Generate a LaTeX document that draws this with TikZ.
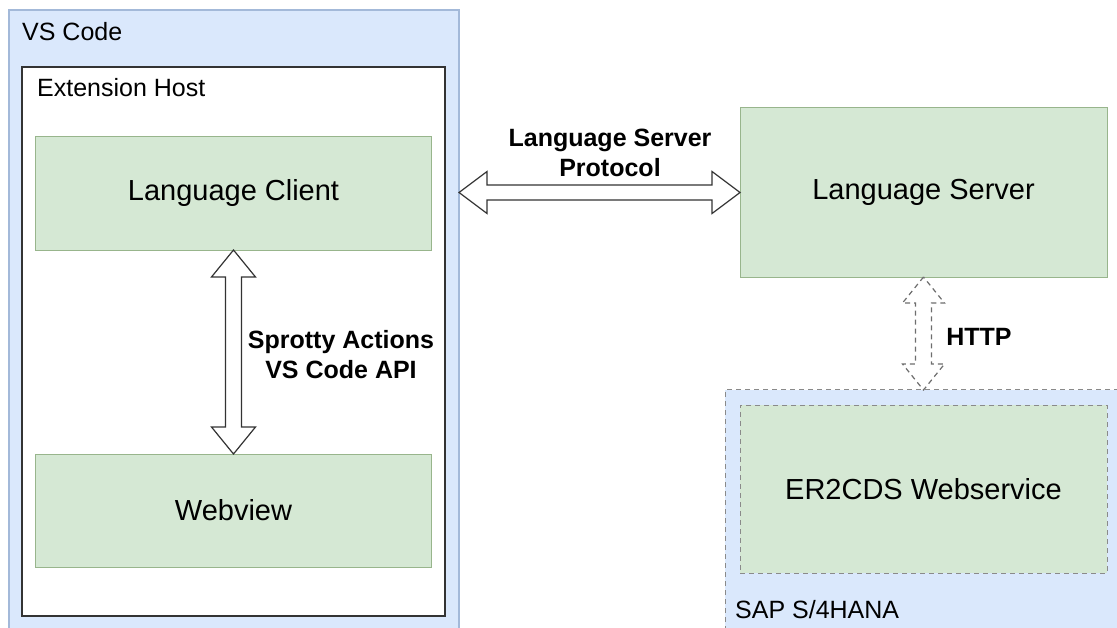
\documentclass[tikz,border=0pt]{standalone}
\usepackage{fontspec}
\setmainfont{Liberation Sans}
\usetikzlibrary{calc}
\definecolor{bluefill}{HTML}{DAE8FC}
\definecolor{blueline}{HTML}{A3B9D9}
\definecolor{greenfill}{HTML}{D5E8D4}
\definecolor{greenline}{HTML}{98B58C}
\definecolor{hostline}{HTML}{333333}
\definecolor{dashline}{HTML}{8A8A8A}
\definecolor{arrowline}{HTML}{333333}
\tikzset{
  container/.style={rectangle, inner sep=0pt, outer sep=0pt},
  vsbox/.style={container, fill=bluefill, draw=blueline, line width=1.2bp},
  hostbox/.style={container, fill=white, draw=hostline, line width=1.3bp},
  greenbox/.style={container, fill=greenfill, draw=greenline, line width=1bp,
    font=\fontsize{29bp}{33bp}\selectfont},
  dashbox/.style={container, draw=dashline, line width=1bp, dash pattern=on 5bp off 4bp},
  smalllabel/.style={inner sep=0pt, anchor=base west, font=\fontsize{25bp}{29bp}\selectfont},
  boldlabel/.style={inner sep=0pt, align=center, font=\bfseries\fontsize{25bp}{30bp}\selectfont},
  flexarrow/.style={draw=arrowline, fill=white, line width=1.2bp, line join=miter},
  dashedflex/.style={draw=dashline!80!black, fill=white, line width=1.2bp, line join=miter,
    dash pattern=on 5bp off 4bp},
}
\begin{document}
\begin{tikzpicture}[x=1bp, y=-1bp]
\path[use as bounding box, fill=white] (0,0) rectangle (1117,628);
\clip (0,0) rectangle (1117,628);

% VS Code container
\node[vsbox, minimum width=450bp, minimum height=630bp] (vs) at (234,325) {};
\node[smalllabel] (vslabel) at (22,41) {VS Code};

% Extension Host
\node[hostbox, minimum width=423bp, minimum height=549bp] (host) at (233.5,341.5) {};
\node[smalllabel] (hostlabel) at (37,97) {Extension Host};

% Language Client / Webview
\node[greenbox, minimum width=395bp, minimum height=113bp] (lc) at (233.5,193.5) {Language Client};
\node[greenbox, minimum width=395bp, minimum height=113bp] (wv) at (233.5,510.5) {Webview};

% Language Server
\node[greenbox, minimum width=367bp, minimum height=169bp] (ls) at (923.5,192.5) {Language Server};

% SAP S/4HANA
\node[dashbox, fill=bluefill, minimum width=405bp, minimum height=250bp] (sap) at (927.5,515) {};
\node[smalllabel] (saplabel) at (735,618) {SAP S/4HANA};
\node[dashbox, fill=greenfill, minimum width=367bp, minimum height=168bp,
  font=\fontsize{29bp}{33bp}\selectfont] (er) at (923.5,489) {ER2CDS Webservice};

% Vertical flex arrow: Language Client <-> Webview
\draw[flexarrow] (lc.south)
  -- ($(lc.south)+(-22,27)$) -- ($(lc.south)+(-8,27)$)
  -- ($(wv.north)+(-8,-27)$) -- ($(wv.north)+(-22,-27)$)
  -- (wv.north)
  -- ($(wv.north)+(22,-27)$) -- ($(wv.north)+(8,-27)$)
  -- ($(lc.south)+(8,27)$) -- ($(lc.south)+(22,27)$)
  -- cycle;
\node[boldlabel] (sprotty) at (341,355) {Sprotty Actions\\VS Code API};

% Horizontal flex arrow: VS Code <-> Language Server
\coordinate (lspL) at (vs.east |- ls.west);
\draw[flexarrow] (lspL)
  -- ($(lspL)+(28,-21)$) -- ($(lspL)+(28,-7.5)$)
  -- ($(ls.west)+(-28,-7.5)$) -- ($(ls.west)+(-28,-21)$)
  -- (ls.west)
  -- ($(ls.west)+(-28,21)$) -- ($(ls.west)+(-28,7.5)$)
  -- ($(lspL)+(28,7.5)$) -- ($(lspL)+(28,21)$)
  -- cycle;
\node[boldlabel] (lsp) at (610,153) {Language Server\\Protocol};

% Dashed flex arrow: Language Server <-> SAP
\coordinate (httpB) at (ls.south |- sap.north);
\draw[dashedflex] (ls.south)
  -- ($(ls.south)+(-21,26)$) -- ($(ls.south)+(-8,26)$)
  -- ($(httpB)+(-8,-26)$) -- ($(httpB)+(-21,-26)$)
  -- (httpB)
  -- ($(httpB)+(21,-26)$) -- ($(httpB)+(8,-26)$)
  -- ($(ls.south)+(8,26)$) -- ($(ls.south)+(21,26)$)
  -- cycle;
\node[boldlabel] (http) at (979,337) {HTTP};
\end{tikzpicture}
\end{document}
